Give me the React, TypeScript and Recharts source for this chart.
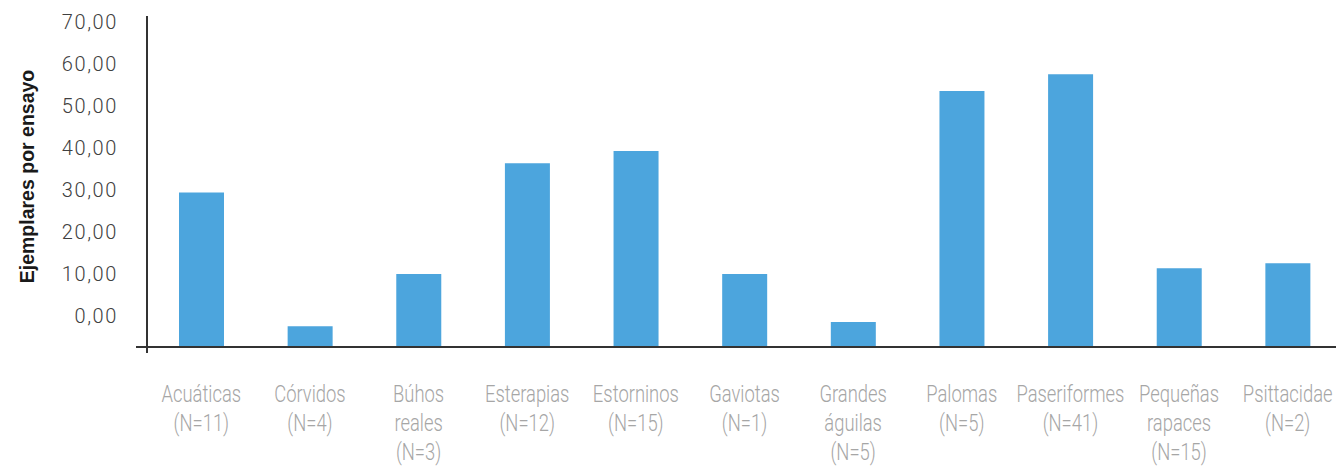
import React from 'react';
import { BarChart, Bar, XAxis, YAxis } from 'recharts';

const categories = [
  'Acuáticas',
  'Córvidos',
  'Búhos reales',
  'Esterapias',
  'Estorninos',
  'Gaviotas',
  'Grandes águilas',
  'Palomas',
  'Paseriformes',
  'Pequeñas rapaces',
  'Psittacidae',
];
const sampleSizes = [11, 4, 3, 12, 15, 1, 5, 5, 41, 15, 2];
const values = [29.5, -2.3, 10.1, 36.5, 39.4, 10.1, -1.3, 53.7, 57.7, 11.5, 12.7];
const yTickValues = [0, 10, 20, 30, 40, 50, 60, 70];
const Y_MIN = -7.26;
const Y_MAX = 71.55;

const data = categories.map((name, i) => ({ name, n: sampleSizes[i], value: values[i] }));

const fmt = (v: number) => v.toFixed(2).replace('.', ',');

const XTick = (props: any) => {
  const { x, y, payload } = props;
  const idx = categories.indexOf(payload.value);
  const lines = String(payload.value).split(' ').concat(`(N=${sampleSizes[idx]})`);
  return (
    <g transform={`translate(${x},${y}) scale(0.8,1)`}>
      <text
        textAnchor="middle"
        fill="#a6a6a6"
        fontFamily="Roboto, 'Noto Sans', sans-serif"
        fontWeight={300}
        fontSize={23}
      >
        {lines.map((l, i) => (
          <tspan key={i} x={0} y={55 + i * 29}>
            {l}
          </tspan>
        ))}
      </text>
    </g>
  );
};

const YTick = (props: any) => {
  const { x, y, payload } = props;
  if (payload.value === Y_MIN) {
    return (
      <g>
        <line x1={x - 11} x2={x} y1={y} y2={y} stroke="#333" strokeWidth={2} />
        <line x1={x} x2={x} y1={y} y2={y + 6} stroke="#333" strokeWidth={2} />
      </g>
    );
  }
  return (
    <text
      x={x - 29}
      y={y}
      dy="0.3em"
      textAnchor="end"
      fill="#404040"
      fontFamily="Roboto, 'Noto Sans', sans-serif"
      fontWeight={300}
      fontSize={20}
      letterSpacing={1.6}
    >
      {fmt(payload.value)}
    </text>
  );
};

const YTitle = (props: any) => {
  const vb = props.viewBox || { x: 0, y: 16, width: 147, height: 331 };
  const cx = vb.x + 27;
  const cy = vb.y + vb.height / 2 - 5;
  return (
    <text
      x={cx}
      y={cy}
      transform={`rotate(-90 ${cx} ${cy})`}
      textAnchor="middle"
      dy="0.36em"
      fill="#1a1a1a"
      fontFamily="'Liberation Sans', Arial, sans-serif"
      fontWeight={700}
      fontSize={19.5}
    >
      Ejemplares por ensayo
    </text>
  );
};

export default function App() {
  return (
    <div style={{ position: 'absolute', left: 0, top: 0, background: '#fff' }}>
      <BarChart
        width={1336}
        height={468}
        data={data}
        margin={{ top: 16, right: -6, bottom: 0, left: 0 }}
      >
        <XAxis
          dataKey="name"
          height={121}
          interval={0}
          tick={<XTick />}
          tickLine={false}
          tickSize={0}
          tickMargin={0}
          axisLine={{ stroke: '#333', strokeWidth: 2 }}
        />
        <YAxis
          type="number"
          width={147}
          domain={[Y_MIN, Y_MAX]}
          ticks={[Y_MIN, ...yTickValues]}
          interval={0}
          tick={<YTick />}
          tickLine={false}
          tickSize={0}
          tickMargin={0}
          axisLine={{ stroke: '#333', strokeWidth: 2 }}
          label={<YTitle />}
        />
        <Bar
          dataKey={(d: any) => [Y_MIN, d.value]}
          fill="#4ca5dd"
          barSize={45}
          isAnimationActive={false}
        />
      </BarChart>
    </div>
  );
}
